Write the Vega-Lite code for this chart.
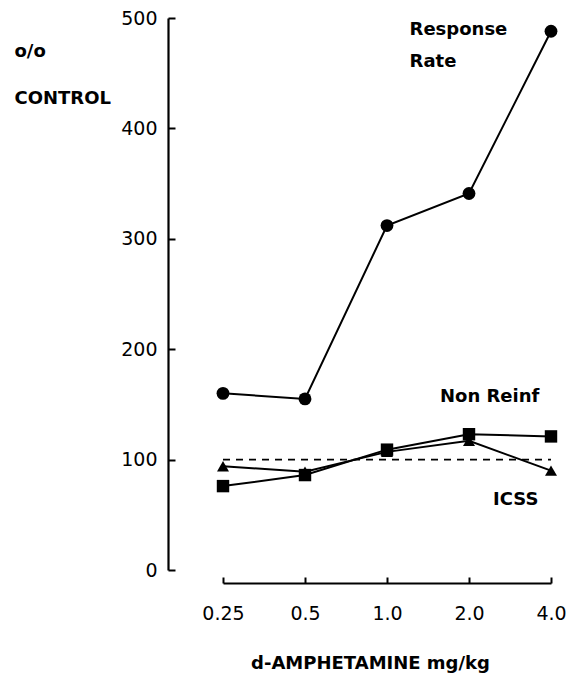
{
  "$schema": "https://vega.github.io/schema/vega-lite/v6.json",
  "width": 328,
  "height": 552,
  "autosize": {"type": "none"},
  "padding": {"left": 223, "top": 18, "right": 17, "bottom": 107},
  "background": "white",
  "config": {"view": {"stroke": null}, "font": "DejaVu Sans"},
  "datasets": {
    "points": [
      {"dose": 0.25, "value": 160, "series": "Response Rate"},
      {"dose": 0.5, "value": 155, "series": "Response Rate"},
      {"dose": 1, "value": 312, "series": "Response Rate"},
      {"dose": 2, "value": 341, "series": "Response Rate"},
      {"dose": 4, "value": 488, "series": "Response Rate"},
      {"dose": 0.25, "value": 76, "series": "Non Reinf"},
      {"dose": 0.5, "value": 86, "series": "Non Reinf"},
      {"dose": 1, "value": 109, "series": "Non Reinf"},
      {"dose": 2, "value": 123, "series": "Non Reinf"},
      {"dose": 4, "value": 121, "series": "Non Reinf"},
      {"dose": 0.25, "value": 94, "series": "ICSS"},
      {"dose": 0.5, "value": 89, "series": "ICSS"},
      {"dose": 1, "value": 107, "series": "ICSS"},
      {"dose": 2, "value": 117, "series": "ICSS"},
      {"dose": 4, "value": 90, "series": "ICSS"}
    ],
    "ref": [
      {"dose": 0.25, "value": 100},
      {"dose": 4, "value": 100}
    ],
    "labels": [
      {"dose": 1.21, "value": 489, "label": "Response"},
      {"dose": 1.21, "value": 460, "label": "Rate"},
      {"dose": 1.565, "value": 157, "label": "Non Reinf"},
      {"dose": 2.45, "value": 63, "label": "ICSS"}
    ]
  },
  "encoding": {
    "x": {
      "field": "dose",
      "type": "quantitative",
      "scale": {"type": "log", "base": 2, "domain": [0.25, 4], "nice": false},
      "axis": {
        "values": [0.25, 0.5, 1, 2, 4],
        "labelExpr": "datum.value == 0.25 ? '0.25' : datum.value == 0.5 ? '0.5' : format(datum.value, '.1f')",
        "offset": 13,
        "tickSize": -6,
        "tickWidth": 2,
        "tickColor": "black",
        "domainWidth": 2,
        "domainColor": "black",
        "labelPadding": 27,
        "labelFontSize": 19,
        "labelColor": "black",
        "labelFlush": false,
        "labelOverlap": false,
        "grid": false,
        "title": "d-AMPHETAMINE mg/kg",
        "titleFontSize": 18,
        "titleFontWeight": "bold",
        "titleColor": "black",
        "titleX": 147,
        "titleY": 80,
        "titleAlign": "center",
        "titleBaseline": "middle"
      }
    },
    "y": {
      "field": "value",
      "type": "quantitative",
      "scale": {"domain": [0, 500], "nice": false},
      "axis": {
        "values": [0, 100, 200, 300, 400, 500],
        "offset": 55,
        "tickSize": -7,
        "tickWidth": 2,
        "tickColor": "black",
        "domainWidth": 2.2,
        "domainColor": "black",
        "labelPadding": 18,
        "labelFontSize": 19,
        "labelColor": "black",
        "labelFlush": false,
        "labelOverlap": false,
        "grid": false,
        "title": ["o/o", "CONTROL"],
        "titleAngle": 0,
        "titleAlign": "left",
        "titleBaseline": "alphabetic",
        "titleX": -154,
        "titleY": 38,
        "titleLineHeight": 47,
        "titleFontSize": 18,
        "titleFontWeight": "bold",
        "titleColor": "black"
      }
    }
  },
  "layer": [
    {
      "data": {"name": "ref"},
      "mark": {"type": "line", "color": "black", "strokeWidth": 1.6, "strokeDash": [7, 6]}
    },
    {
      "data": {"name": "points"},
      "mark": {"type": "line", "color": "black", "strokeWidth": 2},
      "encoding": {"detail": {"field": "series", "type": "nominal"}}
    },
    {
      "data": {"name": "points"},
      "mark": {"type": "point", "filled": true, "opacity": 1, "color": "black"},
      "encoding": {
        "shape": {
          "field": "series",
          "type": "nominal",
          "scale": {"domain": ["Response Rate", "Non Reinf", "ICSS"], "range": ["circle", "square", "triangle-up"]},
          "legend": null
        },
        "size": {
          "field": "series",
          "type": "nominal",
          "scale": {"domain": ["Response Rate", "Non Reinf", "ICSS"], "range": [165, 144, 190]},
          "legend": null
        }
      }
    },
    {
      "data": {"name": "labels"},
      "mark": {"type": "text", "align": "left", "baseline": "middle", "fontSize": 18, "fontWeight": "bold", "color": "black"},
      "encoding": {"text": {"field": "label", "type": "nominal"}}
    }
  ]
}
